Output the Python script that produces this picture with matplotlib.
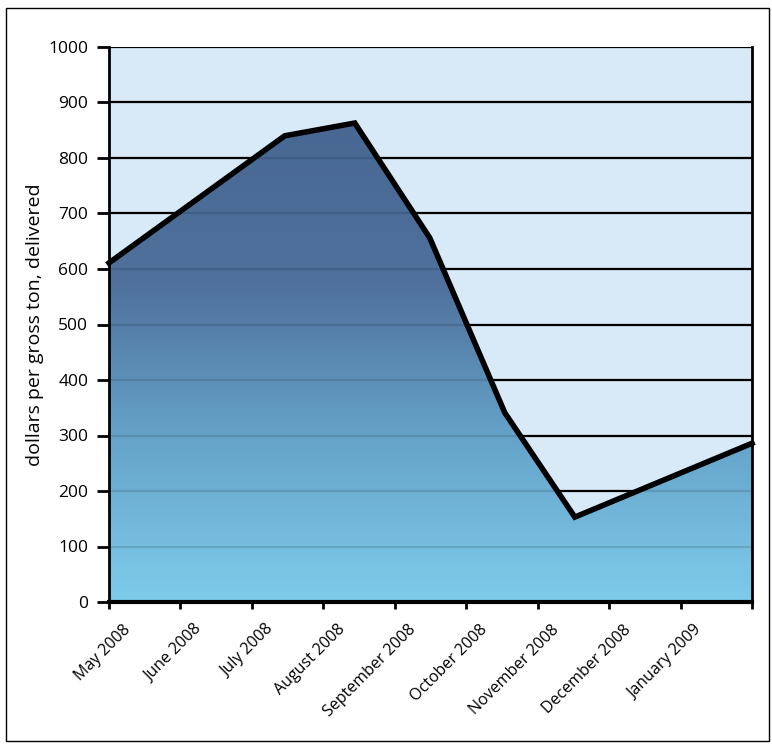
import numpy as np
import matplotlib
matplotlib.use("Agg")
import matplotlib.pyplot as plt
from matplotlib.transforms import ScaledTranslation
from matplotlib.colors import LinearSegmentedColormap
from matplotlib.patches import Rectangle

# Data (x in months since start of May 2008)
month_labels = ["May 2008", "June 2008", "July 2008", "August 2008", "September 2008",
                "October 2008", "November 2008", "December 2008", "January 2009"]
x_pos = [0.0, 2.46, 3.44, 4.49, 5.54, 6.52, 9.0]
prices = [611, 840, 863, 656, 341, 153, 286]
y_ticks = [0, 100, 200, 300, 400, 500, 600, 700, 800, 900, 1000]

plt.rcParams['font.family'] = ['Open Sans', 'DejaVu Sans']

W, H = 772, 744
fig = plt.figure(figsize=(W / 100, H / 100), dpi=100)
ax = fig.add_axes([109 / W, 1 - 602 / H, (752 - 109) / W, (602 - 47) / H])

ax.set_facecolor('#d8eaf8')
ax.set_xlim(0, 9)
ax.set_ylim(0, 1000)

# gridlines
for v in y_ticks[1:]:
    ax.axhline(v, color='black', lw=1.6, zorder=1)
    ax.axhline(v, color='black', lw=1.6, alpha=0.12, zorder=3)

# gradient fill
poly = ax.fill_between(x_pos, prices, 0, facecolor='none', edgecolor='none', zorder=2)
cmap = LinearSegmentedColormap.from_list('g', ['#7ecbea', '#66a4ca', '#4f719c', '#486892'])
grad = np.linspace(0, 1, 256).reshape(-1, 1)
im = ax.imshow(grad, extent=[0, 9, 0, max(prices)], origin='lower', aspect='auto',
               cmap=cmap, zorder=2)
path = poly.get_paths()[0]
im.set_clip_path(path, transform=ax.transData)

ax.plot(x_pos, prices, color='black', lw=4, solid_joinstyle='miter', zorder=4,
        clip_on=False)

# spines
ax.spines['top'].set_visible(False)
ax.spines['left'].set_linewidth(2)
ax.spines['right'].set_linewidth(2)
ax.spines['bottom'].set_linewidth(3)
for s in ax.spines.values():
    s.set_zorder(5)

ax.set_yticks(y_ticks)
ax.set_yticklabels([str(v) for v in y_ticks], fontsize=12.5)
ax.tick_params(axis='y', length=9, width=2, pad=6, direction='out')

ax.set_xticks(range(10))
ax.set_xticklabels(month_labels + [""], fontsize=11.5, rotation=45,
                   ha='right', va='center', rotation_mode='anchor')
ax.tick_params(axis='x', length=5, width=2, pad=6, direction='out')
offset = ScaledTranslation(0.19, -0.10, fig.dpi_scale_trans)
for lab in ax.get_xticklabels():
    lab.set_transform(lab.get_transform() + offset)

ax.set_ylabel("dollars per gross ton, delivered", fontsize=14, labelpad=3)

# outer frame
fig.patches.append(Rectangle((6 / W, 1 - 741 / H), (769 - 6) / W, (741 - 8) / H,
                             transform=fig.transFigure, fill=False,
                             edgecolor='black', lw=1.0))

fig.savefig("out.png", dpi=100)
